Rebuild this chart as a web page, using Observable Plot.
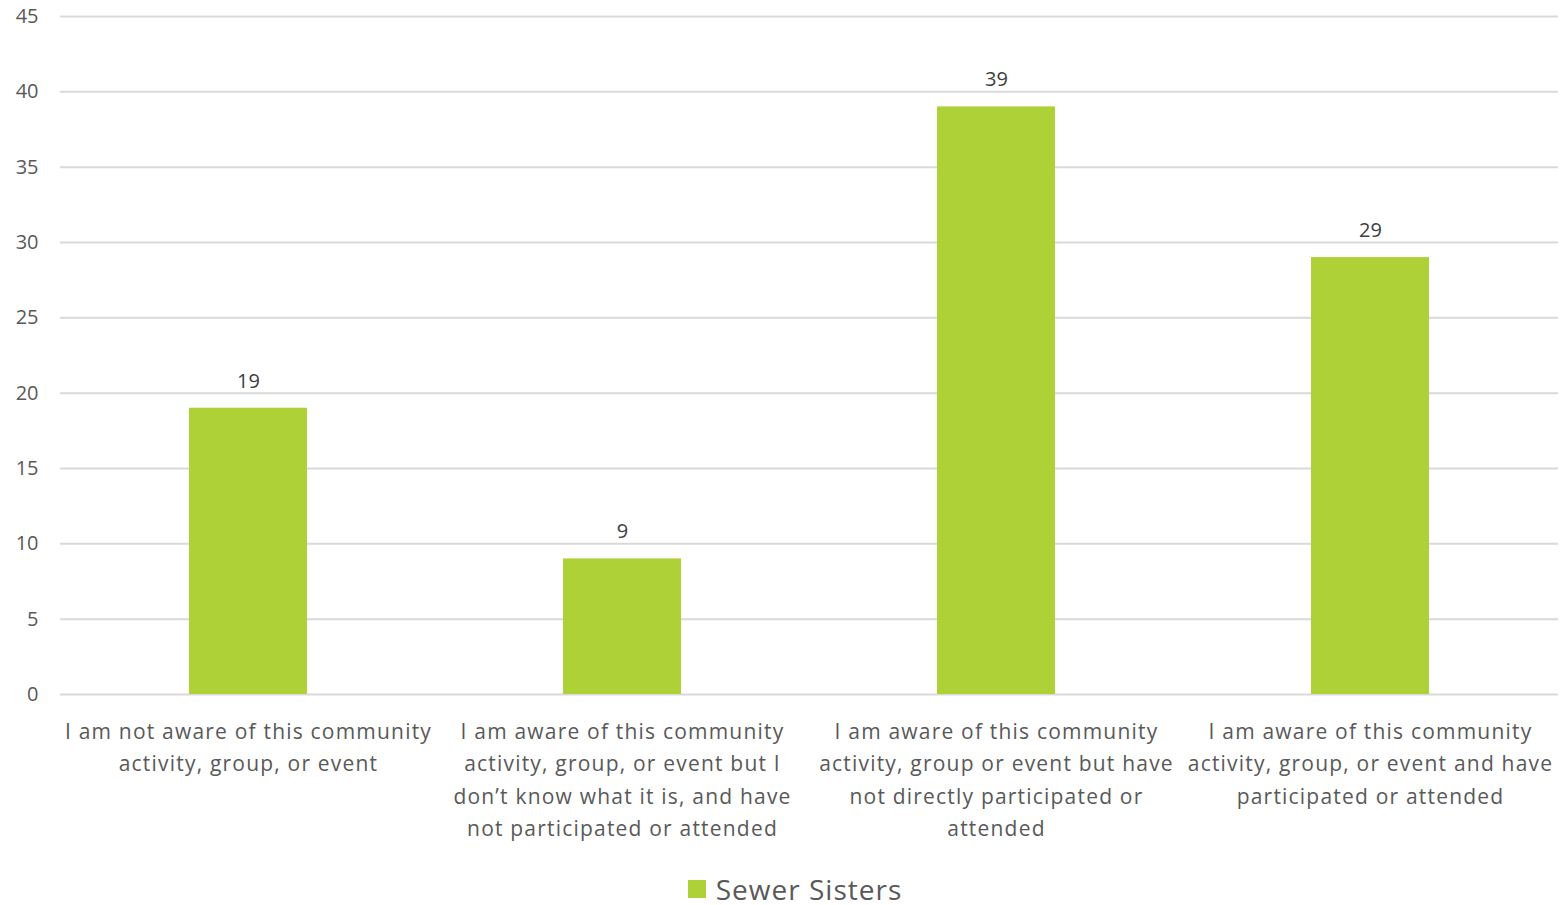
<!DOCTYPE html>
<html>
<head>
<meta charset="utf-8">
<script src="https://cdn.jsdelivr.net/npm/d3@7"></script>
<script src="https://cdn.jsdelivr.net/npm/@observablehq/plot@0.6"></script>
<style>
  html, body { margin: 0; padding: 0; background: #fff; }
  body { width: 1560px; height: 905px; overflow: hidden; font-family: "Open Sans", sans-serif; }
  #legend { display: flex; justify-content: center; align-items: center; height: 40px; margin-top: 4px; color: #595959; font-size: 28px; letter-spacing: 1px; margin-left: 30px; }
  #legend .sw { width: 18px; height: 18px; background: #ADD136; margin-right: 10px; }
  g[aria-label="x-axis tick label"] text { letter-spacing: 1.2px; }
</style>
</head>
<body>
<div id="chart"></div>
<div id="legend"><span class="sw"></span><span>Sewer Sisters</span></div>
<script>
const categories = [
  "I am not aware of this community\nactivity, group, or event",
  "I am aware of this community\nactivity, group, or event but I\ndon’t know what it is, and have\nnot participated or attended",
  "I am aware of this community\nactivity, group or event but have\nnot directly participated or\nattended",
  "I am aware of this community\nactivity, group, or event and have\nparticipated or attended"
];
const values = [19, 9, 39, 29];
const yTicks = [0, 5, 10, 15, 20, 25, 30, 35, 40, 45];
const seriesName = "Sewer Sisters";

const data = categories.map((c, i) => ({category: c, value: values[i], series: seriesName}));

const chart = Plot.plot({
  width: 1560,
  height: 865,
  marginTop: 16,
  marginBottom: 171,
  marginLeft: 60,
  marginRight: 2,
  style: {fontFamily: "Open Sans, sans-serif", color: "#595959", background: "#fff"},
  x: {domain: categories, paddingInner: 0.685, paddingOuter: 0.3425, label: null},
  y: {domain: [0, 45], label: null},
  marks: [
    Plot.gridY(yTicks, {stroke: "#D9D9D9", strokeOpacity: 1, strokeWidth: 2}),
    Plot.axisY(yTicks, {tickSize: 0, tickPadding: 22, fontSize: 20, fill: "#595959", label: null}),
    Plot.barY(data, {x: "category", y: "value", fill: "#ADD136"}),
    Plot.text(data, {x: "category", y: "value", text: d => String(d.value), dy: -27, fontSize: 20, fill: "#404040"}),
    Plot.axisX({tickSize: 0, tickPadding: 21, fontSize: 21, lineHeight: 1.55, fill: "#595959", label: null, textAnchor: "middle"})
  ]
});
document.getElementById("chart").appendChild(chart);
</script>
</body>
</html>
